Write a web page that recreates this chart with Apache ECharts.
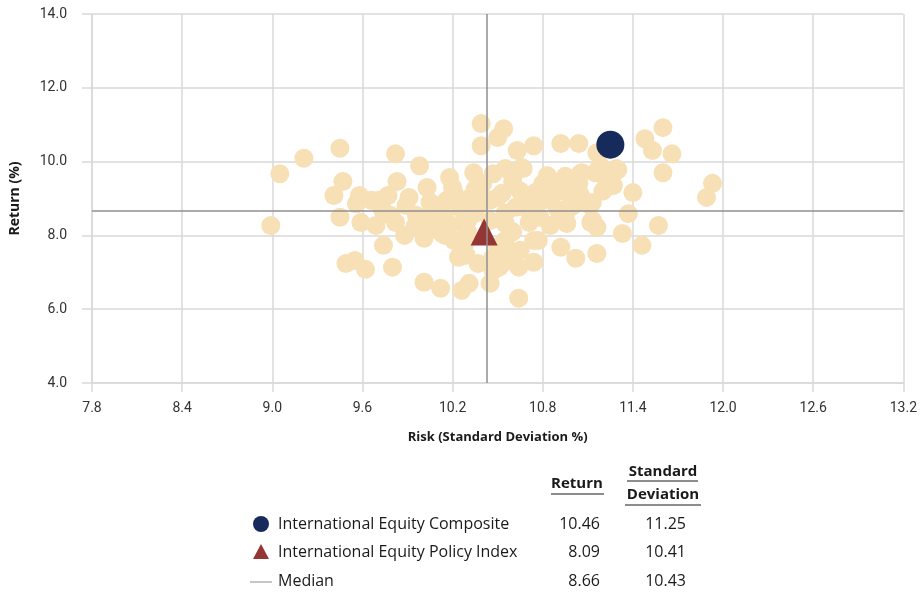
<!DOCTYPE html>
<html>
<head>
<meta charset="utf-8">
<script src="https://cdn.jsdelivr.net/npm/echarts@6/dist/echarts.min.js"></script>
<style>html,body{margin:0;padding:0;background:#fff}#c{width:920px;height:592px}</style>
</head>
<body>
<div id="c"></div>
<script>
// ---- data ----
const xTicks = [7.8, 8.4, 9.0, 9.6, 10.2, 10.8, 11.4, 12.0, 12.6, 13.2];
const yTicks = [4.0, 6.0, 8.0, 10.0, 12.0, 14.0];
const peerRisk = [
 8.99,9.05,9.21,9.45,9.47,9.41,9.58,9.56,9.59,9.45,9.49,9.55,9.62,9.82,9.98,9.83,10.03,10.18,10.34,10.39,
 10.39,9.91,9.71,9.77,9.74,9.88,9.80,10.04,10.01,10.01,10.12,10.26,10.31,10.26,10.54,10.50,10.63,10.74,10.92,11.04,
 11.16,10.55,10.67,10.83,11.05,10.93,11.10,11.12,11.16,10.96,10.92,11.02,11.16,10.74,10.74,10.64,10.64,10.45,10.54,10.78,
 11.60,11.48,11.53,11.66,11.60,11.40,11.37,11.57,11.33,11.46,11.93,11.89,11.29,11.27,10.47,10.21,10.32,10.50,9.96,10.08,
 10.26,10.01,10.28,10.24,10.37,10.47,10.47,10.66,11.06,11.15,10.95,11.04,10.53,10.75,10.88,10.99,11.13,10.62,10.55,10.71,
 10.85,11.13,10.77,10.55,10.57,10.51,9.73,9.79,9.69,9.89,9.82,10.10,10.17,10.21,10.29,10.16,10.40,10.60,10.70,10.35,
 10.45,10.60,10.30,10.90,10.95,10.20,10.15,11.20,11.22,10.65,10.80,10.38,11.18,11.30,11.23,11.22,9.66,9.74,10.02,10.13,
 10.10,10.25,10.45,10.55,10.70,10.85,10.95,10.30,10.50,10.65,10.15,10.90,10.60,10.80,11.05,11.00,10.35,10.05,9.95
];
const peerReturn = [
 8.27,9.67,10.09,10.36,9.46,9.08,9.08,8.86,8.35,8.49,7.24,7.32,7.08,10.21,9.89,9.46,9.30,9.57,9.70,11.03,
 10.43,9.03,8.95,9.08,7.73,8.00,7.14,8.14,8.49,6.73,6.57,6.51,6.70,7.46,10.89,10.65,10.30,10.43,10.49,10.49,
 10.24,9.81,9.81,9.62,9.67,9.22,8.86,8.35,8.22,8.32,7.68,7.38,7.51,7.86,7.27,7.14,6.30,6.70,7.27,8.49,
 10.92,10.62,10.30,10.21,9.70,9.16,8.59,8.27,8.05,7.73,9.41,9.03,9.81,9.35,9.67,9.14,9.03,9.03,8.54,8.22,
 8.32,7.92,7.78,7.41,7.24,7.41,7.05,9.84,9.70,9.70,9.35,9.41,9.14,9.16,9.14,9.00,8.89,8.76,8.32,8.35,
 8.27,8.41,7.86,7.86,7.41,7.14,8.73,8.54,8.27,8.81,8.35,8.78,8.27,7.86,7.46,8.95,9.40,9.45,9.00,8.60,
 8.40,8.10,8.10,8.70,9.60,9.30,8.50,9.20,9.55,9.20,8.95,8.85,9.90,9.78,9.54,9.30,8.95,8.65,8.30,8.05,
 8.60,8.75,8.95,8.60,8.70,8.95,8.55,8.40,7.70,7.60,8.00,9.30,9.60,9.40,9.10,8.80,9.25,8.90,8.25
];
const compositeRisk = [11.25];
const compositeReturn = [10.46];
const policyRisk = [10.41];
const policyReturn = [8.09];
const medianRisk = 10.43;
const medianReturn = 8.66;
const tableNames = ['International Equity Composite', 'International Equity Policy Index', 'Median'];
const tableReturn = ['10.46', '8.09', '8.66'];
const tableStd = ['11.25', '10.41', '10.43'];

// ---- chart ----
const chart = echarts.init(document.getElementById('c'), null, {renderer: 'canvas'});
const peach = '#f7dfb6', navy = '#172a5c', red = '#943634', medianColor = '#8f8f8f', gridColor = '#d9d9d9';
const tickFont = "Roboto,'Liberation Sans',sans-serif";
const textFont = "'Open Sans','Noto Sans',sans-serif";

const rowsY = [524, 552, 581];
const graphics = [];
graphics.push({type: 'circle', shape: {cx: 261, cy: rowsY[0], r: 8}, style: {fill: navy}});
graphics.push({type: 'polygon', shape: {points: [[261, rowsY[1] - 8], [269, rowsY[1] + 7], [253, rowsY[1] + 7]]}, style: {fill: red}});
graphics.push({type: 'line', shape: {x1: 250, y1: rowsY[2] + 1, x2: 272, y2: rowsY[2] + 1}, style: {stroke: medianColor, lineWidth: 1}});
const rFont = '16px ' + textFont;
tableNames.forEach((n, i) => {
  graphics.push({type: 'text', x: 278, y: rowsY[i], style: {text: n, font: rFont, fill: '#1a1a1a', textVerticalAlign: 'middle'}});
  graphics.push({type: 'text', x: 600, y: rowsY[i], style: {text: tableReturn[i], font: rFont, fill: '#1a1a1a', textAlign: 'right', textVerticalAlign: 'middle'}});
  graphics.push({type: 'text', x: 686, y: rowsY[i], style: {text: tableStd[i], font: rFont, fill: '#1a1a1a', textAlign: 'right', textVerticalAlign: 'middle'}});
});
const hFont = 'bold 15px ' + textFont;
graphics.push({type: 'text', x: 577, y: 484, style: {text: 'Return', font: hFont, fill: '#1a1a1a', textAlign: 'center', textVerticalAlign: 'middle'}});
graphics.push({type: 'line', shape: {x1: 551, y1: 494, x2: 604, y2: 494}, style: {stroke: '#1a1a1a', lineWidth: 1}});
graphics.push({type: 'text', x: 663, y: 472, style: {text: 'Standard', font: hFont, fill: '#1a1a1a', textAlign: 'center', textVerticalAlign: 'middle'}});
graphics.push({type: 'line', shape: {x1: 627, y1: 481, x2: 698, y2: 481}, style: {stroke: '#1a1a1a', lineWidth: 1}});
graphics.push({type: 'text', x: 663, y: 495, style: {text: 'Deviation', font: hFont, fill: '#1a1a1a', textAlign: 'center', textVerticalAlign: 'middle'}});
graphics.push({type: 'line', shape: {x1: 625, y1: 505, x2: 701, y2: 505}, style: {stroke: '#1a1a1a', lineWidth: 1}});

const option = {
  animation: false,
  backgroundColor: '#fff',
  grid: {left: 89, right: 13, top: 14, bottom: 209},
  xAxis: {
    type: 'value', min: 7.8, max: 13.2, interval: 0.6,
    name: 'Risk (Standard Deviation %)', nameLocation: 'middle', nameGap: 48,
    nameTextStyle: {fontFamily: textFont, fontWeight: 'bold', fontSize: 13, color: '#1a1a1a'},
    axisLine: {show: true, lineStyle: {color: gridColor, width: 1.5}},
    axisTick: {show: true, length: 9, lineStyle: {color: gridColor, width: 1.5}},
    axisLabel: {margin: 18, fontFamily: tickFont, fontSize: 14, color: '#333', formatter: v => v.toFixed(1)},
    splitLine: {show: true, lineStyle: {color: gridColor, width: 1.5}}
  },
  yAxis: {
    type: 'value', min: 4, max: 14, interval: 2,
    name: 'Return (%)', nameLocation: 'middle', nameGap: 70, nameRotate: 90,
    nameTextStyle: {fontFamily: textFont, fontWeight: 'bold', fontSize: 14, color: '#1a1a1a'},
    axisLine: {show: true, lineStyle: {color: gridColor, width: 1.5}},
    axisTick: {show: true, length: 10, lineStyle: {color: gridColor, width: 1.5}},
    axisLabel: {margin: 25, fontFamily: tickFont, fontSize: 14, color: '#333', formatter: v => v.toFixed(1)},
    splitLine: {show: true, lineStyle: {color: gridColor, width: 1.5}}
  },
  series: [
    {type: 'scatter', name: 'Peers', symbolSize: 19, z: 2,
     itemStyle: {color: peach, opacity: 1},
     data: peerRisk.map((x, i) => [x, peerReturn[i]])},
    {type: 'scatter', name: 'International Equity Policy Index', symbol: 'triangle', symbolSize: 27, z: 3,
     itemStyle: {color: red, opacity: 1},
     data: policyRisk.map((x, i) => [x, policyReturn[i]])},
    {type: 'scatter', name: 'International Equity Composite', symbol: 'circle', symbolSize: 28, z: 4,
     itemStyle: {color: navy, opacity: 1},
     data: compositeRisk.map((x, i) => [x, compositeReturn[i]])},
    {type: 'scatter', name: 'Median', data: [], z: 5,
     markLine: {silent: true, symbol: 'none', animation: false, label: {show: false},
       lineStyle: {color: medianColor, width: 1.5, type: 'solid'},
       data: [{xAxis: medianRisk}, {yAxis: medianReturn}]}}
  ],
  graphic: graphics
};
chart.setOption(option);
</script>
</body>
</html>
